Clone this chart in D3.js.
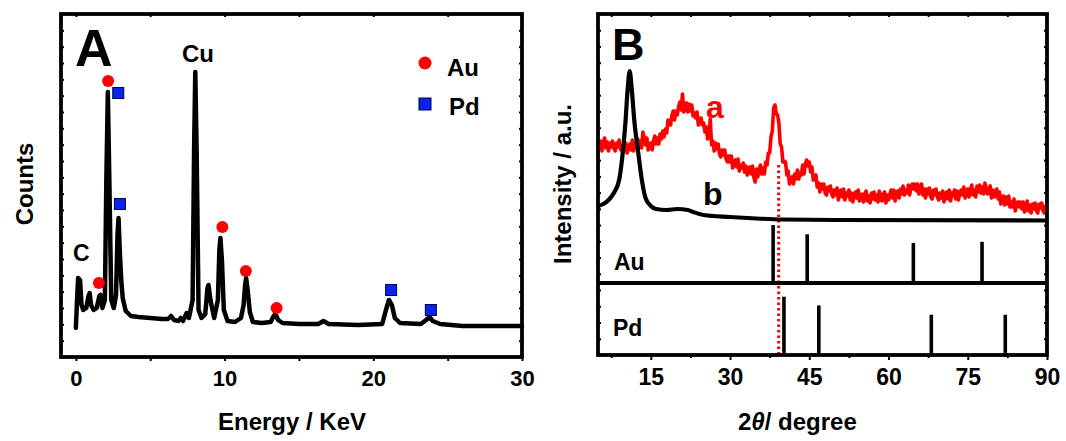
<!DOCTYPE html>
<html>
<head>
<meta charset="utf-8">
<script src="https://cdn.jsdelivr.net/npm/d3@7"></script>
<style>
  body { margin: 0; background: #fff; }
  svg text { font-family: "Liberation Sans", Arial, sans-serif; font-weight: bold; }
</style>
</head>
<body>
<svg id="chart" width="1066" height="441"></svg>
<script>
// ---- panel A : EDS spectrum ----
const edsEnergy = [0.00, 0.08, 0.15, 0.28, 0.38, 0.50, 0.70, 0.85, 0.93, 1.02, 1.20, 1.40, 1.58, 1.66, 1.78, 1.95,
    2.05, 2.15, 2.25, 2.38, 2.55, 2.70, 2.80, 2.87, 2.95, 3.05, 3.15, 3.35, 3.7, 4.2, 5.0, 5.8, 6.2, 6.4, 6.6, 6.9,
    7.05, 7.2, 7.45, 7.6, 7.85, 7.95, 8.03, 8.12, 8.25, 8.45, 8.7, 8.85, 8.92, 9.05, 9.3, 9.55, 9.65, 9.72, 9.82,
    9.95, 10.2, 10.7, 11.1, 11.28, 11.38, 11.45, 11.55, 11.7, 11.9, 12.5, 13.1, 13.3, 13.42, 13.6, 13.9, 15, 16.3,
    16.65, 17.0, 19, 20.6, 20.85, 21.05, 21.25, 21.45, 21.8, 23.2, 23.55, 23.78, 24.0, 24.5, 26, 28, 30];
const edsCounts = [29, 57, 79, 77, 52, 47, 49, 61, 64, 52, 47, 49, 61, 62, 49, 57,
    177, 265, 177, 57, 49, 62, 122, 139, 107, 77, 59, 46, 41, 40, 39, 38, 38, 41, 37, 36,
    39, 36, 44, 39, 57, 207, 285, 207, 47, 39, 43, 69, 72, 57, 39, 57, 107, 119, 97,
    47, 36, 35, 39, 52, 72, 79, 67, 45, 35, 34, 35, 41, 43, 37, 34, 33, 33,
    36, 33, 32, 33, 47, 57, 52, 39, 34, 33, 37, 40, 36, 33, 31, 31, 31];

const auMarkE = [1.55, 2.17, 9.85, 11.43, 13.5];
const auMarkC = [74, 276, 130, 86, 49];
const pdMarkE = [2.85, 2.96, 21.2, 23.87];
const pdMarkC = [264, 153, 67, 47];

const edsTicks = [0, 5, 10, 15, 20, 25, 30];

// ---- panel B : XRD ----
// curve a, one value every 0.25 degree from 5 to 90
const scanA = [
    83, 76, 83, 73, 80, 86, 76, 82, 73, 81, 77, 83, 76, 73, 81, 77, 84, 75, 73, 79,
    74, 81, 71, 77, 80, 74, 84, 73, 81, 79, 85, 76, 83, 76, 92, 86, 79, 86, 74, 78,
    81, 74, 83, 88, 80, 86, 80, 90, 85, 93, 87, 95, 91, 104, 100, 99, 109, 113, 104, 113,
    109, 117, 122, 114, 130, 112, 119, 121, 112, 120, 113, 119, 108, 111, 106, 112, 99, 105, 106, 99,
    101, 92, 97, 85, 88, 105, 79, 83, 73, 81, 75, 80, 70, 67, 74, 69, 74, 65, 62, 68,
    62, 68, 56, 62, 64, 57, 65, 53, 59, 56, 61, 52, 58, 49, 55, 57, 50, 58, 47, 42,
    55, 47, 55, 59, 50, 56, 50, 62, 59, 71, 71, 87, 93, 116, 119, 110, 109, 101, 80, 77,
    62, 63, 62, 49, 53, 40, 45, 47, 40, 50, 45, 54, 45, 51, 49, 59, 50, 60, 64, 58,
    62, 52, 57, 44, 47, 49, 37, 41, 32, 40, 35, 40, 31, 29, 37, 33, 38, 30, 27, 34,
    29, 36, 24, 31, 34, 27, 35, 24, 31, 28, 34, 24, 31, 22, 29, 32, 26, 34, 23, 27,
    30, 22, 29, 33, 23, 28, 21, 31, 25, 32, 24, 29, 22, 33, 26, 23, 30, 32, 21, 29,
    24, 30, 34, 26, 34, 23, 31, 33, 26, 35, 30, 38, 29, 34, 31, 39, 29, 37, 40, 35,
    40, 33, 40, 30, 35, 40, 29, 35, 26, 35, 30, 36, 27, 25, 34, 29, 35, 27, 24, 31,
    26, 33, 22, 29, 32, 25, 34, 23, 31, 28, 34, 25, 33, 24, 31, 34, 29, 37, 26, 31,
    35, 27, 34, 39, 29, 34, 27, 38, 32, 39, 31, 37, 30, 41, 34, 30, 36, 38, 26, 34,
    27, 32, 35, 25, 32, 20, 26, 28, 19, 27, 20, 28, 17, 22, 17, 25, 13, 21, 22, 17,
    22, 15, 22, 12, 18, 23, 13, 19, 11, 20, 15, 21, 13, 11, 20, 16, 21, 13, 11, 18,
    16];
const scanAStart = 5, scanAStep = 0.25;

const scanB2theta = [5, 6, 7, 8, 9, 9.7, 10.2, 10.6, 11.0, 11.4, 11.9, 12.6, 13.3, 14.0, 15, 16, 18, 20, 22, 23,
    25, 30, 35, 40, 50, 90];
const scanBInt = [18, 20, 24, 31, 44, 72, 102, 134, 153, 134, 102, 72, 44, 26, 18, 15, 14, 15, 14, 12,
    9, 7, 5.5, 4.5, 4, 3.5];

const auRef2theta = [38.15, 44.6, 64.7, 77.7];
const auRefInt = [100, 84, 69, 71];
const pdRef2theta = [40.2, 46.8, 68.1, 82.1];
const pdRefInt = [100, 85, 69, 69];
const markerLine2theta = 39.2;

const xrdTicks = [15, 30, 45, 60, 75, 90];
const xrdMinorTicks = [7.5, 22.5, 37.5, 52.5, 67.5, 82.5];

const svg = d3.select("#chart");

function sideTicks(g, left, right, top, bottom) {
    const s = d3.scaleLinear([0, 21], [bottom, top]);
    const vals = d3.range(1, 21);
    g.append("g").attr("transform", `translate(${left},0)`)
        .call(d3.axisLeft(s).tickValues(vals).tickSize(-3).tickFormat(""))
        .call(a => a.select(".domain").remove());
    g.append("g").attr("transform", `translate(${right},0)`)
        .call(d3.axisRight(s).tickValues(vals).tickSize(-3).tickFormat(""))
        .call(a => a.select(".domain").remove());
}

function styleTicks(g) {
    g.selectAll(".tick line").attr("stroke", "#000").attr("stroke-width", 2);
}

// ================= Panel A =================
const A = {left: 61, right: 522, top: 14, bottom: 357};
const xA = d3.scaleLinear([-1, 30], [A.left, A.right]);
const yA = d3.scaleLinear([0, 343], [A.bottom, A.top]);
const gA = svg.append("g");

const axA = gA.append("g").attr("transform", `translate(0,${A.bottom})`)
    .call(d3.axisBottom(xA).tickValues(edsTicks).tickSize(4).tickPadding(9)
        .tickFormat(d => d % 10 === 0 ? d : ""));
axA.select(".domain").remove();
axA.selectAll("text").attr("font-size", 22).attr("fill", "#000");
styleTicks(axA);

const axAt = gA.append("g").attr("transform", `translate(0,${A.top})`)
    .call(d3.axisTop(xA).tickValues(edsTicks).tickSize(-3).tickFormat(""));
axAt.select(".domain").remove();
styleTicks(axAt);
sideTicks(gA, A.left, A.right, A.top, A.bottom);
styleTicks(gA);

gA.append("path")
    .datum(edsEnergy.map((e, i) => [e, edsCounts[i]]))
    .attr("fill", "none").attr("stroke", "#000").attr("stroke-width", 4.5)
    .attr("stroke-linejoin", "round").attr("stroke-linecap", "round")
    .attr("d", d3.line().x(d => xA(d[0])).y(d => yA(d[1])));

gA.selectAll("circle.au").data(auMarkE).join("circle").attr("class", "au")
    .attr("cx", d => xA(d)).attr("cy", (d, i) => yA(auMarkC[i])).attr("r", 6)
    .attr("fill", "#ff0000");
gA.selectAll("rect.pd").data(pdMarkE).join("rect").attr("class", "pd")
    .attr("x", d => xA(d) - 5.5).attr("y", (d, i) => yA(pdMarkC[i]) - 5.5)
    .attr("width", 11).attr("height", 11)
    .attr("fill", "#0a22f0").attr("stroke", "#00004a").attr("stroke-width", 1);

gA.append("rect").attr("x", A.left).attr("y", A.top)
    .attr("width", A.right - A.left).attr("height", A.bottom - A.top)
    .attr("fill", "none").attr("stroke", "#000").attr("stroke-width", 3.8);

gA.append("text").attr("x", 75).attr("y", 66).attr("font-size", 52).text("A");
gA.append("text").attr("x", 182).attr("y", 62).attr("font-size", 24).text("Cu");
gA.append("text").attr("x", 73).attr("y", 261).attr("font-size", 23).text("C");

// legend
gA.append("circle").attr("cx", 425).attr("cy", 63).attr("r", 6.5).attr("fill", "#ff0000");
gA.append("text").attr("x", 447).attr("y", 76).attr("font-size", 24).text("Au");
gA.append("rect").attr("x", 419).attr("y", 98).attr("width", 12).attr("height", 12)
    .attr("fill", "#0a22f0").attr("stroke", "#00004a").attr("stroke-width", 1);
gA.append("text").attr("x", 449).attr("y", 115).attr("font-size", 24).text("Pd");

gA.append("text").attr("transform", "translate(33,184) rotate(-90)")
    .attr("text-anchor", "middle").attr("font-size", 24).text("Counts");
gA.append("text").attr("x", 292).attr("y", 430)
    .attr("text-anchor", "middle").attr("font-size", 24).text("Energy / KeV");

// ================= Panel B =================
const B = {left: 598, right: 1047, top: 14, bottom: 355, split1: 224, split2: 283};
const xB = d3.scaleLinear([5, 90], [B.left, B.right]);
const yB = d3.scaleLinear([0, 210], [B.split1, B.top]);
const yAu = d3.scaleLinear([0, 100], [B.split2, 225]);
const yPd = d3.scaleLinear([0, 100], [B.bottom, 296.7]);
const gB = svg.append("g");

const axB = gB.append("g").attr("transform", `translate(0,${B.bottom})`)
    .call(d3.axisBottom(xB).tickValues(xrdTicks).tickSize(5).tickPadding(9));
axB.select(".domain").remove();
axB.selectAll("text").attr("font-size", 23).attr("fill", "#000");
styleTicks(axB);
const axBm = gB.append("g").attr("transform", `translate(0,${B.bottom})`)
    .call(d3.axisBottom(xB).tickValues(xrdMinorTicks).tickSize(3).tickFormat(""));
axBm.select(".domain").remove();
styleTicks(axBm);
const axBt = gB.append("g").attr("transform", `translate(0,${B.top})`)
    .call(d3.axisTop(xB).tickValues(xrdTicks.concat(xrdMinorTicks)).tickSize(-3).tickFormat(""));
axBt.select(".domain").remove();
styleTicks(axBt);
sideTicks(gB, B.left, B.right, B.top, B.bottom);
styleTicks(gB);

// red dotted guide
gB.append("line")
    .attr("x1", xB(markerLine2theta)).attr("x2", xB(markerLine2theta))
    .attr("y1", 165).attr("y2", B.bottom)
    .attr("stroke", "#ff0000").attr("stroke-width", 3)
    .attr("stroke-dasharray", "2.5,3");

// curve a
gB.append("path")
    .datum(scanA.map((v, i) => [scanAStart + i * scanAStep, v]))
    .attr("fill", "none").attr("stroke", "#ff0000").attr("stroke-width", 3.6)
    .attr("stroke-linejoin", "round")
    .attr("d", d3.line().x(d => xB(d[0])).y(d => yB(d[1])));

// curve b
gB.append("path")
    .datum(scanB2theta.map((t, i) => [t, scanBInt[i]]))
    .attr("fill", "none").attr("stroke", "#000").attr("stroke-width", 4.2)
    .attr("d", d3.line().curve(d3.curveMonotoneX).x(d => xB(d[0])).y(d => yB(d[1])));

// reference sticks
gB.selectAll("line.au").data(auRef2theta).join("line").attr("class", "au")
    .attr("x1", d => xB(d)).attr("x2", d => xB(d))
    .attr("y1", yAu(0)).attr("y2", (d, i) => yAu(auRefInt[i]))
    .attr("stroke", "#000").attr("stroke-width", 3.6);
gB.selectAll("line.pd").data(pdRef2theta).join("line").attr("class", "pd")
    .attr("x1", d => xB(d)).attr("x2", d => xB(d))
    .attr("y1", yPd(0)).attr("y2", (d, i) => yPd(pdRefInt[i]))
    .attr("stroke", "#000").attr("stroke-width", 3.6);

gB.append("line").attr("x1", B.left).attr("x2", B.right)
    .attr("y1", B.split2).attr("y2", B.split2)
    .attr("stroke", "#000").attr("stroke-width", 3.8);

gB.append("rect").attr("x", B.left).attr("y", B.top)
    .attr("width", B.right - B.left).attr("height", B.bottom - B.top)
    .attr("fill", "none").attr("stroke", "#000").attr("stroke-width", 3.8);

gB.append("text").attr("x", 612).attr("y", 60).attr("font-size", 45).text("B");
gB.append("text").attr("x", 706).attr("y", 118).attr("font-size", 32).attr("fill", "#ff0000").text("a");
gB.append("text").attr("x", 703).attr("y", 205).attr("font-size", 32).text("b");
gB.append("text").attr("x", 614).attr("y", 270).attr("font-size", 23).text("Au");
gB.append("text").attr("x", 613).attr("y", 336).attr("font-size", 23).text("Pd");

gB.append("text").attr("transform", "translate(571,184) rotate(-90)")
    .attr("text-anchor", "middle").attr("font-size", 24).text("Intensity / a.u.");
const tB = gB.append("text").attr("x", 738).attr("y", 430).attr("font-size", 24);
tB.append("tspan").text("2");
tB.append("tspan").attr("font-style", "italic").text("θ");
tB.append("tspan").text("/ degree");
</script>
</body>
</html>
